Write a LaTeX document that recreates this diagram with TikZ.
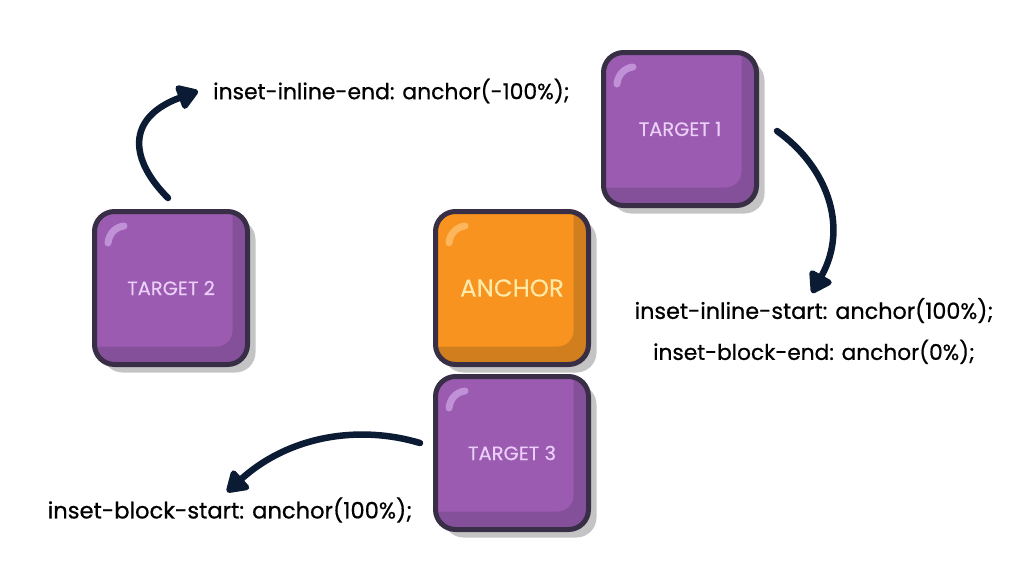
\documentclass[tikz,border=0pt]{standalone}
\usepackage{fontspec}
\setmainfont{Poppins}
\newfontfamily\rulefont{Poppins}[FakeBold=0.7]
\newfontfamily\cardfont{Poppins}[FakeBold=0.3]
\usetikzlibrary{arrows.meta, positioning, shadows}
\definecolor{edgeink}{HTML}{382E45}
\definecolor{arrowink}{HTML}{0B1B33}
\definecolor{shadowgray}{HTML}{C4C4C4}
\definecolor{purplemain}{HTML}{9A5BB1}
\definecolor{purpledark}{HTML}{85509A}
\definecolor{purplelight}{HTML}{C191D8}
\definecolor{purpletext}{HTML}{EBCFF8}
\definecolor{orangemain}{HTML}{F7931E}
\definecolor{orangedark}{HTML}{D17F1E}
\definecolor{orangelight}{HTML}{FDB65C}
\definecolor{orangetext}{HTML}{FFE9A6}
\newcommand*{\cardshade}[2]{%
  \fill[#1, rounded corners=16pt] ([shift={(-30pt,30pt)}]path picture bounding box.north west) rectangle ([shift={(-15pt,18pt)}]path picture bounding box.south east);
  \draw[#2, line width=7pt, line cap=round] ([shift={(13.5pt,-31.5pt)}]path picture bounding box.north west) .. controls ([shift={(14.5pt,-22pt)}]path picture bounding box.north west) and ([shift={(21pt,-15.5pt)}]path picture bounding box.north west) .. ([shift={(29.5pt,-14.5pt)}]path picture bounding box.north west);
}
\begin{document}
\begin{tikzpicture}[
    x=1pt, y=-1pt, on grid,
    cardbox/.style={rectangle, draw=edgeink, line width=5pt, rounded corners=20pt, minimum size=153pt,
      inner sep=0pt, drop shadow={shadow xshift=8pt, shadow yshift=-8pt, fill=shadowgray, opacity=1}},
    targetbox/.style={cardbox, fill=purpledark, text=purpletext, font=\cardfont\fontsize{19.5}{22}\selectfont,
      path picture={\cardshade{purplemain}{purplelight}}},
    anchorbox/.style={cardbox, fill=orangedark, text=orangetext, font=\cardfont\fontsize{24.5}{28}\selectfont,
      path picture={\cardshade{orangemain}{orangelight}}},
    rulelabel/.style={text=black, inner sep=0pt, font=\rulefont\fontsize{22.6}{41}\selectfont},
    curvearrow/.style={draw=arrowink, line width=6.5pt, line cap=round, line join=round,
      -{Triangle[round, length=23pt, width=28pt]}},
  ]
  \useasboundingbox (0,0) rectangle (1024,576);

  \node[anchorbox] (anchor) at (512,288) {ANCHOR};
  \node[targetbox] (target_3) [below=165pt of anchor] {TARGET 3};
  \node[targetbox] (target_2) [left=341pt of anchor] {TARGET 2};
  \node[targetbox] (target_1) [above right=159pt and 168pt of anchor] {TARGET 1};

  \node[rulelabel, anchor=west, font=\rulefont\fontsize{21.9}{41}\selectfont] (rule_2) at (213,91) {inset-inline-end: anchor(-100\%);};
  \node[rulelabel, align=center, font=\rulefont\fontsize{22.3}{41}\selectfont] (rule_1) at (814,331) {inset-inline-start: anchor(100\%);\\{\fontsize{21.7}{41}\selectfont inset-block-end: anchor(0\%);}};
  \node[rulelabel] (rule_3) at (230,510) {inset-block-start: anchor(100\%);};

  \coordinate (start_1) at (777,131);
  \coordinate (tip_1) at (812,293);
  \coordinate (start_2) at (168,198);
  \coordinate (tip_2) at (198,91);
  \coordinate (start_3) at (420,443);
  \coordinate (tip_3) at (227,492);

  \path[curvearrow] (start_1) .. controls (825,165) and (850,225) .. (tip_1);
  \path[curvearrow] (start_2) .. controls (130,160) and (125,118) .. (tip_2);
  \path[curvearrow] (start_3) .. controls (360,425) and (290,435) .. (tip_3);
\end{tikzpicture}
\end{document}
